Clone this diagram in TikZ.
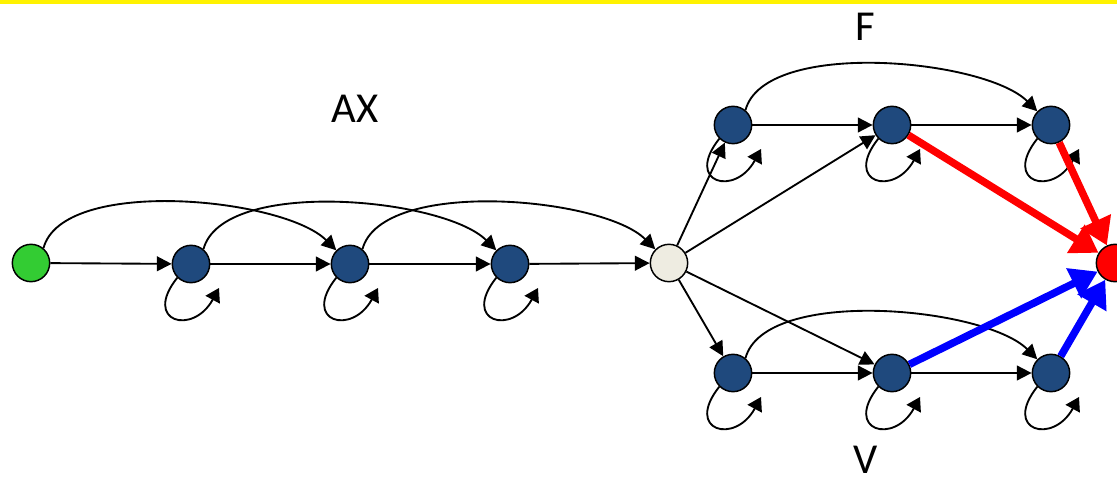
\documentclass[tikz,border=0pt]{standalone}
\usepackage{fontspec}
\setmainfont{Carlito}
\usetikzlibrary{arrows.meta}

\definecolor{navy}{RGB}{31,73,125}
\definecolor{startgreen}{RGB}{51,204,51}
\definecolor{beige}{RGB}{238,236,225}

\tikzset{
    state/.style={circle,draw,line width=1.1pt,minimum size=28pt,inner sep=0pt,fill=navy},
    trans/.style={line width=1.4pt,-{Triangle[length=11pt,width=11pt]}},
    selfloop/.style={line width=1.4pt,-{Triangle[length=10pt,width=12pt]}},
    skip/.style={trans,out=75,in=135,looseness=0.65},
    hot/.style={line width=5.6pt,-{Triangle[length=20pt,width=24pt]}},
    label/.style={font=\fontsize{32}{38}\selectfont,inner sep=0pt}
}

\begin{document}
\begin{tikzpicture}[x=0.75pt,y=0.75pt]
            
            \useasboundingbox (0,0) rectangle (1117,-477);
            \fill[yellow] (0,0) rectangle (1117,-4);
            
            % states
            \node[state,fill=startgreen] (s) at (31,-263) {};
            \node[state] (a1) at (191,-264) {};
            \node[state] (a2) at (350,-264) {};
            \node[state] (a3) at (510,-264) {};
            \node[state,fill=beige] (c) at (669,-263) {};
            \node[state] (f1) at (733,-125) {};
            \node[state] (f2) at (892,-125) {};
            \node[state] (f3) at (1051,-125) {};
            \node[state] (v1) at (733,-373) {};
            \node[state] (v2) at (892,-373) {};
            \node[state] (v3) at (1051,-373) {};
            \node[state,fill=red] (e) at (1115,-263) {};
            
            \node[label] (ax) at (355,-109) {AX};
            \node[label] (f) at (865,-27) {F};
            \node[label] (v) at (866,-460) {V};
            
            % transitions
            \draw[trans] (s) -- (a1);
            \draw[trans] (a1) -- (a2);
            \draw[trans] (a2) -- (a3);
            \draw[trans] (a3) -- (c);
            \draw[trans] (c) -- (f1);
            \draw[trans] (c) -- (f2);
            \draw[trans] (c) -- (v1);
            \draw[trans] (c) -- (v2);
            \draw[trans] (f1) -- (f2);
            \draw[trans] (f2) -- (f3);
            \draw[trans] (v1) -- (v2);
            \draw[trans] (v2) -- (v3);
            
            \draw[skip] (s.50) to (a2.135);
            \draw[skip] (a1.50) to (a3.135);
            \draw[skip] (a2.50) to (c.135);
            \draw[skip] (f1.50) to (f3.135);
            \draw[skip] (v1.50) to (v3.135);
            
            \foreach \n in {a1,a2,a3,f1,f2,f3,v1,v2,v3}
                \draw[selfloop] (\n.225) .. controls ([shift={(-49,-58)}]\n.center)
                    and ([shift={(2,-72)}]\n.center) .. ([shift={(28,-24)}]\n.center);
            
            \draw[hot,red] (f2) -- (e);
            \draw[hot,red] (f3) -- (e);
            \draw[hot,blue] (v2) -- (e);
            \draw[hot,blue] (v3) -- (e);
            
        \end{tikzpicture}
\end{document}
